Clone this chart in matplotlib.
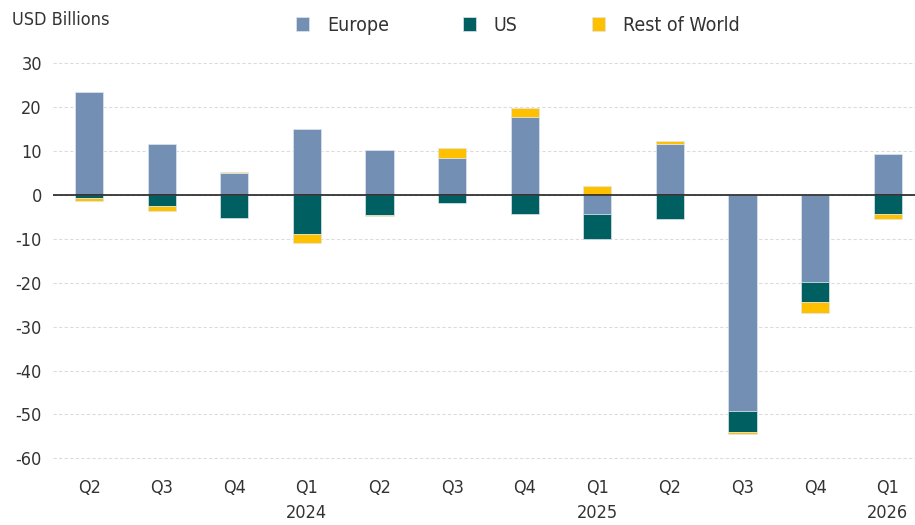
import matplotlib.pyplot as plt
import numpy as np

quarters = ['Q2', 'Q3', 'Q4', 'Q1\n2024', 'Q2', 'Q3', 'Q4', 'Q1\n2025', 'Q2', 'Q3', 'Q4', 'Q1\n2026']
europe = [23.4, 11.6, 5.0, 15.0, 10.2, 8.3, 17.7, -4.3, 11.5, -49.1, -19.8, 9.3]
us = [-0.7, -2.5, -5.2, -8.8, -4.6, -1.9, -4.3, -5.7, -5.5, -4.8, -4.5, -4.3]
rest_of_world = [-0.6, -1.2, 0.3, -2.1, -0.3, 2.4, 2.1, 2.0, 0.8, -0.6, -2.7, -1.2]

series = [('Europe', europe, '#7390b4'),
          ('US', us, '#005f60'),
          ('Rest of World', rest_of_world, '#ffc000')]

plt.rcParams['font.family'] = ['DejaVu Sans']
plt.rcParams['font.stretch'] = 'condensed'
plt.rcParams['axes.unicode_minus'] = False

fig = plt.figure(figsize=(9.15, 5.25), dpi=100)
ax = fig.add_axes([0.058, 0.1143, 0.942, 0.7905])

x = np.arange(len(quarters))
pos = np.zeros(len(x))
neg = np.zeros(len(x))
for name, vals, color in series:
    vals = np.array(vals)
    bottom = np.where(vals >= 0, pos, neg)
    ax.bar(x, vals, 0.39, bottom=bottom, color=color, label=name,
           edgecolor='#dde6ee', linewidth=0.5, zorder=3)
    pos = pos + np.where(vals >= 0, vals, 0)
    neg = neg + np.where(vals < 0, vals, 0)

ax.axhline(0, color='#222222', linewidth=1.2, zorder=4)
ax.set_ylim(-61.5, 33)
ax.set_xlim(-0.496, 11.376)
ax.set_yticks(range(-60, 31, 10))
ax.set_xticks(x)
ax.set_xticklabels(quarters, linespacing=1.5)
ax.tick_params(axis='both', length=0, labelsize=13, colors='#333333')
ax.tick_params(axis='x', pad=10)
ax.tick_params(axis='y', pad=8)
ax.yaxis.grid(True, color='#dcdcdc', linestyle=(0, (3, 2)), linewidth=0.8, zorder=0)
for s in ax.spines.values():
    s.set_visible(False)

fig.text(0.013, 0.962, 'USD Billions', fontsize=13, color='#333333', va='center')
fig.legend(loc='center left', bbox_to_anchor=(0.304, 0.952), ncol=3, frameon=False,
           fontsize=14, handlelength=0.7, handleheight=0.7, columnspacing=3.8,
           handletextpad=0.9, labelcolor='#333333')

fig.savefig('out.png', dpi=100)
